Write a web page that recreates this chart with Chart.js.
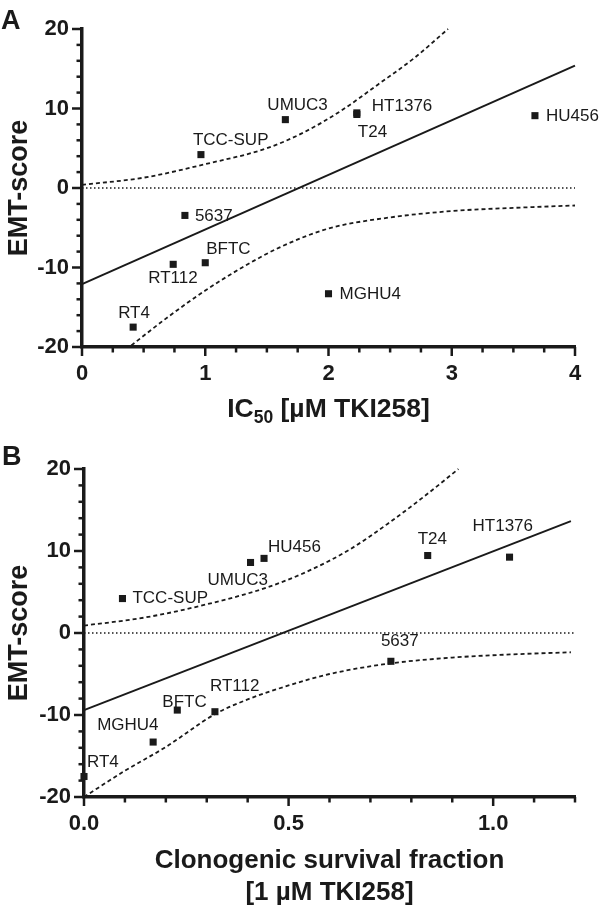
<!DOCTYPE html>
<html>
<head>
<meta charset="utf-8">
<script src="https://cdn.jsdelivr.net/npm/chart.js@4.4.1/dist/chart.umd.min.js"></script>
<style>
html,body{margin:0;padding:0;background:#fff;width:600px;height:906px;overflow:hidden}
#ca{position:absolute;left:0;top:0}
#cb{position:absolute;left:0;top:440px}
</style>
</head>
<body>
<canvas id="ca" width="600" height="440"></canvas>
<canvas id="cb" width="600" height="466"></canvas>
<script>
// ---------- data ----------
const cellLines     = ['TCC-SUP','UMUC3','HU456','T24','HT1376','5637','RT112','BFTC','MGHU4','RT4'];
const emtScore      = [4.2, 8.6, 9.1, 9.45, 9.25, -3.45, -9.6, -9.4, -13.3, -17.5];
const ic50          = [0.965, 1.65, 3.675, 2.23, 2.23, 0.835, 0.74, 1.0, 2.0, 0.415];
const clonoFraction = [0.094, 0.407, 0.44, 0.84, 1.04, 0.75, 0.32, 0.228, 0.169, 0.0];

// panel A regression line and 95% band
const fitAX   = [0, 4];
const fitAY   = [-12.1, 15.4];
const upperAX = [0, 0.5, 1.0, 1.5, 1.8, 2.1, 2.4, 2.7, 2.97];
const upperAY = [0.4, 1.3, 3.0, 5.0, 7.0, 9.7, 13.0, 16.4, 20];
const lowerAX = [0.40, 0.7, 1.0, 1.3, 1.6, 2.0, 2.5, 3.0, 3.5, 4.0];
const lowerAY = [-19.8, -16.2, -12.9, -10.0, -7.5, -5.1, -3.7, -2.9, -2.5, -2.2];

// panel B regression line and 95% band
const fitBX   = [0, 1.19];
const fitBY   = [-9.4, 13.65];
const upperBX = [0, 0.15, 0.3, 0.45, 0.55, 0.65, 0.75, 0.83, 0.915];
const upperBY = [0.9, 1.9, 3.5, 5.6, 7.6, 10.2, 13.6, 16.6, 20];
const lowerBX = [0, 0.1, 0.2, 0.32, 0.4, 0.5, 0.6, 0.75, 0.9, 1.05, 1.19];
const lowerBY = [-20, -16.8, -13.9, -9.9, -8.1, -6.4, -5.0, -3.7, -3.0, -2.6, -2.35];

const yTicks  = [-20, -10, 0, 10, 20];
const xTicksA = [0, 1, 2, 3, 4];
const xTicksB = ['0.0', '0.5', '1.0'];

// ---------- styling ----------
const FONT = "'Liberation Sans', Arial, Helvetica, sans-serif";
const INK = '#1a1a1a';

// label placement relative to the marker (text left edge, baseline)
const labelPosA = {
  'TCC-SUP':[-8,-10], 'UMUC3':[-18,-10], 'HT1376':[15,-3], 'T24':[1,24], 'HU456':[11,5],
  '5637':[10,6], 'BFTC':[1,-9], 'RT112':[-25,19], 'RT4':[-15,-9], 'MGHU4':[11,5]
};
const labelPosB = {
  'TCC-SUP':[10,4], 'UMUC3':[-43,23], 'HU456':[4,-6], 'T24':[-10,-12], 'HT1376':[-37,-26],
  '5637':[-10,-15], 'RT112':[-5,-21], 'BFTC':[-15,-3], 'MGHU4':[-56,-12], 'RT4':[3,-10]
};

const decor = {
  id: 'decor',
  afterDraw(chart, args, o) {
    const ctx = chart.ctx, xs = chart.scales.x, ys = chart.scales.y, ca = chart.chartArea;
    ctx.save();
    // tick marks
    ctx.strokeStyle = INK; ctx.lineWidth = 2.5; ctx.lineCap = 'butt';
    const ny = Math.round((ys.max - ys.min) / o.yMinor);
    for (let i = 0; i <= ny; i++) {
      const v = ys.min + i * o.yMinor;
      const major = Math.abs(v / o.yMajor - Math.round(v / o.yMajor)) < 1e-6;
      const y = ys.getPixelForValue(v);
      ctx.beginPath(); ctx.moveTo(ca.left, y); ctx.lineTo(ca.left - (major ? 10 : 5.5), y); ctx.stroke();
    }
    const nx = Math.round((xs.max - xs.min) / o.xMinor);
    for (let i = 0; i <= nx; i++) {
      const v = xs.min + i * o.xMinor;
      const major = Math.abs(v / o.xMajor - Math.round(v / o.xMajor)) < 1e-6;
      const x = xs.getPixelForValue(v);
      ctx.beginPath(); ctx.moveTo(x, ca.bottom); ctx.lineTo(x, ca.bottom + (major ? 9 : 5.5)); ctx.stroke();
    }
    ctx.fillStyle = INK;
    // point labels
    const meta = chart.getDatasetMeta(0);
    ctx.font = '17px ' + FONT; ctx.textAlign = 'left'; ctx.textBaseline = 'alphabetic';
    meta.data.forEach((el, i) => {
      const name = cellLines[i];
      const off = o.labelPos[name];
      ctx.fillText(name, el.x + off[0], el.y + off[1]);
    });
    // panel letter
    ctx.font = 'bold 27px ' + FONT;
    ctx.fillText(o.letter, o.letterX, o.letterY);
    // y title
    ctx.save();
    ctx.translate(27, (ca.top + ca.bottom) / 2);
    ctx.rotate(-Math.PI / 2);
    ctx.textAlign = 'center';
    ctx.font = 'bold 27px ' + FONT;
    ctx.fillText('EMT-score', 0, 0);
    ctx.restore();
    // x title (segments, possibly with subscript)
    const cx = (ca.left + ca.right) / 2;
    o.xTitle.forEach(line => {
      let w = 0;
      line.segs.forEach(s => { ctx.font = 'bold ' + s.size + 'px ' + FONT; w += ctx.measureText(s.text).width; });
      let x = cx - w / 2;
      line.segs.forEach(s => {
        ctx.font = 'bold ' + s.size + 'px ' + FONT;
        ctx.textAlign = 'left';
        ctx.fillText(s.text, x, line.y + (s.dy || 0));
        x += ctx.measureText(s.text).width;
      });
    });
    ctx.restore();
  }
};

function xy(xv, yv) { return xv.map((x, i) => ({x: x, y: yv[i]})); }

function panel(id, cfg) {
  return new Chart(document.getElementById(id), {
    type: 'scatter',
    data: {
      datasets: [
        { data: xy(cfg.xVals, emtScore), pointStyle: 'rect', pointRadius: 5, pointBackgroundColor: INK,
          pointBorderWidth: 0, showLine: false, clip: false },
        { data: xy(cfg.fitX, cfg.fitY), showLine: true, borderColor: INK, borderWidth: 2, pointRadius: 0, clip: false },
        { data: xy(cfg.upX, cfg.upY), showLine: true, borderColor: INK, borderWidth: 1.8, borderDash: [4, 3],
          pointRadius: 0, cubicInterpolationMode: 'monotone', clip: false },
        { data: xy(cfg.loX, cfg.loY), showLine: true, borderColor: INK, borderWidth: 1.8, borderDash: [4, 3],
          pointRadius: 0, cubicInterpolationMode: 'monotone', clip: false },
        { data: xy([0, cfg.xMax], [0, 0]), showLine: true, borderColor: INK, borderWidth: 1.4, borderDash: [1.5, 2.5],
          pointRadius: 0, clip: false }
      ]
    },
    options: {
      responsive: false, animation: false, events: [],
      layout: { padding: { left: 0, right: 25, top: 29, bottom: 0 } },
      plugins: { legend: { display: false }, tooltip: { enabled: false }, decor: cfg.decor },
      scales: {
        x: {
          type: 'linear', min: 0, max: cfg.xMax,
          grid: { display: false, drawTicks: false },
          border: { display: true, width: 3.5, color: INK },
          ticks: { stepSize: cfg.xStep, includeBounds: false, padding: 14, color: INK,
                   font: { family: FONT, weight: 'bold', size: 22 },
                   callback: cfg.xFmt },
          afterFit: s => { s.height = cfg.xAxisH; }
        },
        y: {
          type: 'linear', min: -20, max: 20,
          grid: { display: false, drawTicks: false },
          border: { display: true, width: 3.5, color: INK },
          ticks: { stepSize: 10, padding: 13, color: INK,
                   font: { family: FONT, weight: 'bold', size: 22 },
                   callback: v => yTicks.includes(v) ? String(v) : '' },
          afterFit: s => { s.width = cfg.yAxisW; }
        }
      }
    },
    plugins: [decor]
  });
}

panel('ca', {
  xVals: ic50, fitX: fitAX, fitY: fitAY, upX: upperAX, upY: upperAY, loX: lowerAX, loY: lowerAY,
  xMax: 4, xStep: 1, xAxisH: 93, yAxisW: 82,
  xFmt: v => xTicksA.includes(v) ? String(v) : '',
  decor: {
    yMinor: 2, yMajor: 10, xMinor: 0.25, xMajor: 1, labelPos: labelPosA,
    letter: 'A', letterX: 1, letterY: 29,
    xTitle: [{ y: 417, segs: [{text: 'IC', size: 26.5}, {text: '50', size: 17.5, dy: 6}, {text: ' [µM TKI258]', size: 26.5}] }]
  }
});

panel('cb', {
  xVals: clonoFraction, fitX: fitBX, fitY: fitBY, upX: upperBX, upY: upperBY, loX: lowerBX, loY: lowerBY,
  xMax: 1.2, xStep: 0.5, xAxisH: 109, yAxisW: 84,
  xFmt: v => { const s = v.toFixed(1); return xTicksB.includes(s) ? s : ''; },
  decor: {
    yMinor: 2, yMajor: 10, xMinor: 0.1, xMajor: 0.5, labelPos: labelPosB,
    letter: 'B', letterX: 2, letterY: 25,
    xTitle: [
      { y: 428, segs: [{text: 'Clonogenic survival fraction', size: 26}] },
      { y: 460, segs: [{text: '[1 µM TKI258]', size: 26}] }
    ]
  }
});
</script>
</body>
</html>
